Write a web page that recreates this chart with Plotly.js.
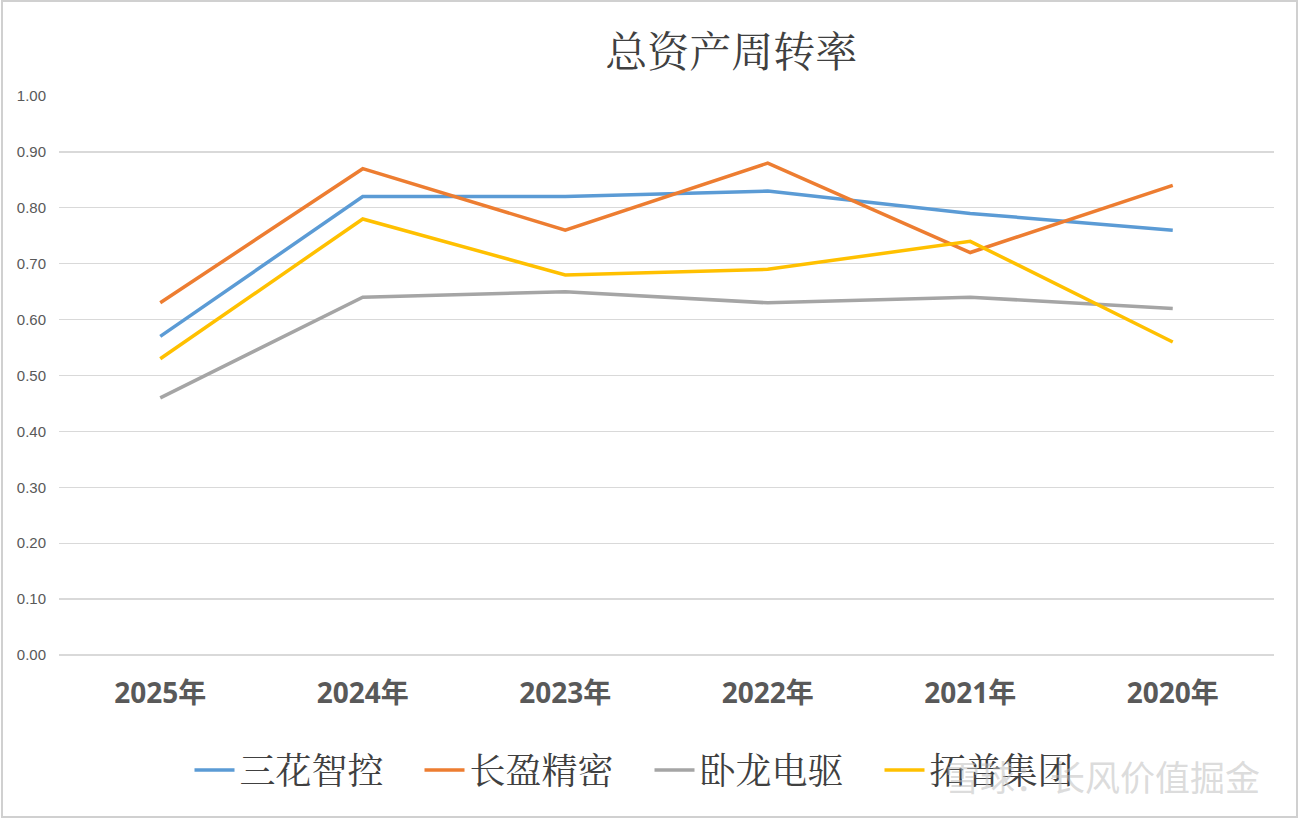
<!DOCTYPE html>
<html>
<head>
<meta charset="utf-8">
<script src="https://cdn.plot.ly/plotly-3.0.1.min.js"></script>
<style>html,body{margin:0;padding:0;background:#fff;}#chart{width:1299px;height:819px;}</style>
</head>
<body>
<div id="chart"></div>
<script>
const categories = ['2025年','2024年','2023年','2022年','2021年','2020年'];
const seriesNames = ['三花智控','长盈精密','卧龙电驱','拓普集团'];
const sanhua = [0.57,0.82,0.82,0.83,0.79,0.76];
const changying = [0.63,0.87,0.76,0.88,0.72,0.84];
const wolong = [0.46,0.64,0.65,0.63,0.64,0.62];
const tuopu = [0.53,0.78,0.68,0.69,0.74,0.56];
const colors = ['#5B9BD5','#ED7D31','#A5A5A5','#FFC000'];
const yTicks = [0,0.1,0.2,0.3,0.4,0.5,0.6,0.7,0.8,0.9,1.0];

const allSeries = [sanhua, changying, wolong, tuopu];
const traces = allSeries.map((vals,i)=>({
  x: categories, y: vals, type:'scatter', mode:'lines', name: seriesNames[i],
  line:{color:colors[i], width:3.5}
}));

const layout = {
  width:1299, height:819,
  paper_bgcolor:'#fff', plot_bgcolor:'#fff',
  margin:{l:59,r:25,t:96,b:164, autoexpand:false},
  title:{text:'总资产周转率', x:0.563, xanchor:'center', y:0.936, yanchor:'middle',
    font:{family:'"Noto Serif CJK SC","Noto Sans CJK SC",serif', size:42, color:'#404040'}},
  xaxis:{type:'category', range:[-0.5,5.5], showgrid:false, zeroline:false, showline:false, ticks:'',
    tickfont:{family:'"Open Sans","Noto Sans CJK SC",sans-serif', size:28, color:'#595959', weight:'bold'},
    ticklabelstandoff:19, fixedrange:true, automargin:false},
  yaxis:{range:[0,1], tickvals:yTicks, tickformat:'.2f', showgrid:true, gridcolor:'#D9D9D9', gridwidth:1.3,
    zeroline:true, zerolinecolor:'#D9D9D9', zerolinewidth:1.3, ticks:'', ticklabelstandoff:12,
    tickfont:{family:'"Liberation Sans","DejaVu Sans",sans-serif', size:15, color:'#595959'}, fixedrange:true, automargin:false},
  showlegend:true,
  legend:{orientation:'h', x:0.5, xref:'container', xanchor:'center', y:1-770/819, yref:'container', yanchor:'middle',
    font:{family:'"Noto Serif CJK SC","Noto Sans CJK SC",serif', size:36, color:'#404040'},
    itemwidth:40, tracegroupgap:0, entrywidth:175, entrywidthmode:'pixels'},
  annotations:[{xref:'paper', yref:'paper', x:0.99, y:-0.215, xanchor:'right', yanchor:'middle',
    text:'雪球：长风价值掘金', showarrow:false,
    font:{family:'"Noto Sans CJK SC",sans-serif', size:35, color:'rgba(190,190,190,0.55)'}}],
  shapes:[{type:'rect', xref:'paper', yref:'paper', x0:(2-59)/1215, x1:(1297-59)/1215, y0:(655-817)/559, y1:(655-1)/559,
    line:{color:'#D0D0D0', width:2}, fillcolor:'rgba(0,0,0,0)', layer:'below'}]
};

Plotly.newPlot('chart', traces, layout, {displayModeBar:false, staticPlot:true});
</script>
</body>
</html>
